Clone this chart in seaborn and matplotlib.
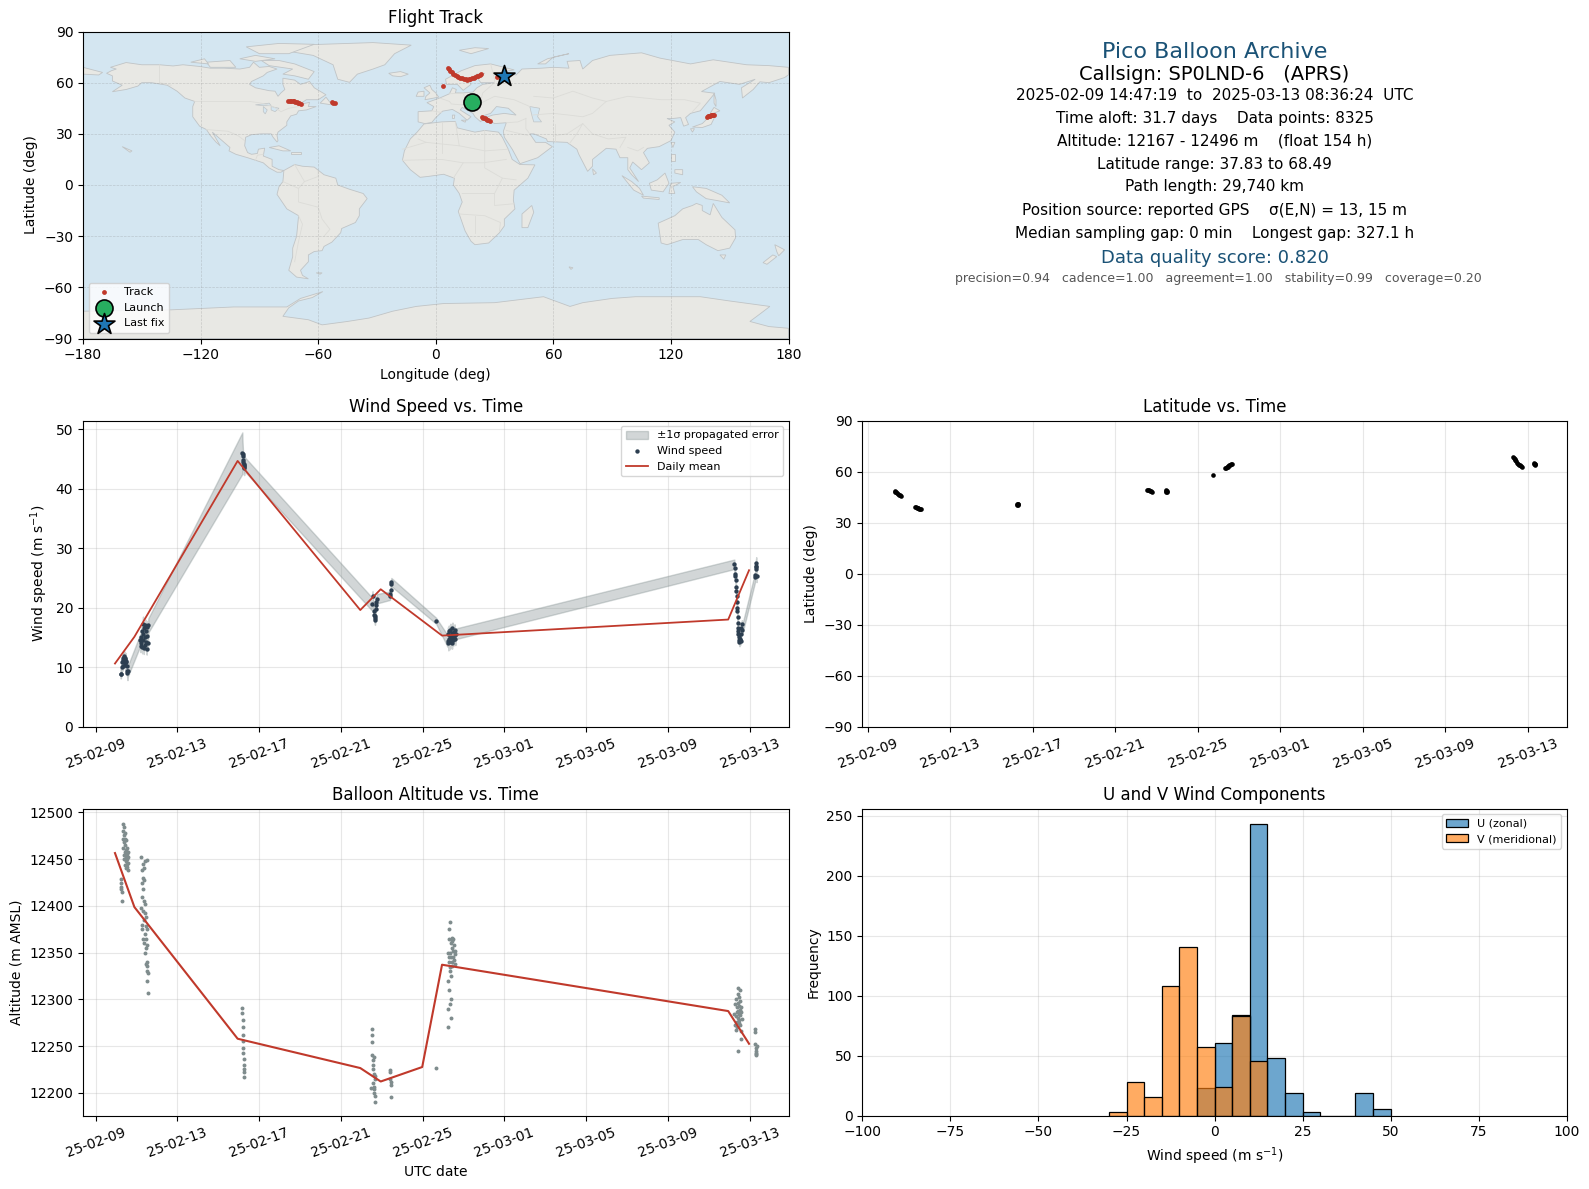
import numpy as np
import pandas as pd
import matplotlib
matplotlib.use('Agg')
import matplotlib.pyplot as plt
import matplotlib.dates as mdates
import seaborn as sns

W, H = 1589, 1189
START = pd.Timestamp('2025-02-09')

# ---- map outlines (lon, lat), read by eye
north_america = [(-168,65.5),(-165.5,67),(-163,68),(-166,69),(-158,71.8),(-150,70.5),(-141,70.5),(-134,69.8),(-129,70.5),(-120.5,69.5),(-115,68.5),(-108,68.5),(-100,68),(-95,69),(-93,72),(-90,69),(-85,69.5),(-81,68),(-86,66),(-88,64),(-94,60.7),(-95,59),(-92,57),(-85,55.3),(-82,55),(-80.5,52),(-79,54),(-77,56),(-78,59),(-78,62.6),(-72,61.5),(-69,59),(-64.4,60.7),(-62,57),(-56,52.9),(-60,50),(-66,50),(-70,47),(-64.4,48.5),(-65,46),(-61,46),(-66,44),(-70,43.5),(-71,41.5),(-74,40.5),(-76,37),(-76,35),(-80.5,31),(-81,29),(-80.5,26),(-81,25.2),(-83,28),(-84,30),(-89,30),(-94,29.5),(-97,28),(-97.5,23),(-96,19),(-94,18),(-91,18.5),(-90.5,21),(-87.3,21.6),(-88,17),(-83.5,15),(-83.5,11),(-80,9),(-77.5,8.5),(-79,7.5),(-81,7.5),(-85,10),(-88,13),(-92,14.5),(-96,16),(-102,18),(-105.5,20),(-105,22),(-109,26),(-112,29),(-114,31),(-112,27),(-110,23),(-112,25),(-115,29),(-117,32.5),(-120.5,34.5),(-124,40),(-124,46),(-123,49),(-128,51),(-132,55),(-137,58.5),(-145,60),(-150,60),(-152,58),(-158,56),(-165,54.7),(-160,58.5),(-165,61),(-165,64)]
south_america = [(-77.5,8.5),(-72,12),(-68,11),(-62,10.5),(-57,6),(-51,4),(-50,0),(-44,-2.5),(-37,-5),(-35,-8),(-39,-14),(-39,-18),(-41,-22),(-48,-25.5),(-48.5,-28),(-53,-33.5),(-57,-36),(-58,-38.5),(-62,-39),(-65,-41),(-65,-45),(-69,-50),(-68,-53),(-65,-55),(-71,-54),(-75,-50),(-73,-42),(-73,-37),(-71,-30),(-70,-18),(-76,-14),(-81,-5.5),(-80,-1),(-78,2)]
africa = [(-6,35.8),(3,37),(10,37.3),(11,33.5),(20,31),(25,32),(32,31),(34,28),(37,21),(39,15),(43,12),(50.6,11.8),(47,4),(40,-3),(39.6,-8.7),(40.4,-14),(35,-20),(35,-24),(32.5,-28),(27,-34),(20,-35),(18,-33),(15,-27),(11.5,-15.5),(13.5,-10),(12,-5),(9,0),(9.5,4),(4,6.3),(-4,5),(-8,4.5),(-13,9),(-17,14.5),(-16,20),(-13,27),(-9.5,31)]
eurasia = [(-9,37),(-9,43),(-2,43.5),(-1,46),(-4.5,48.3),(2,51),(7,53.5),(8.5,57),(10.5,56),(10,54),(14,54),(19,54.5),(21,57),(24,59),(30,60),(23,60),(21,63),(25,65.5),(21,65),(17,61),(18,59),(14,55.5),(11,59),(5.5,59),(5,62),(13,67),(20,70),(28,71),(40,67.5),(35,66.5),(41,64.5),(44,68),(54,68.5),(60,69),(68,68.5),(67,72.5),(73.6,73),(75,68),(80,73),(88.9,76),(105,77.5),(114.4,74.4),(130,71),(141.6,73.4),(158.6,70.5),(170,70),(180,69),(180,64.6),(178,63),(170,60),(165.4,60.5),(162,56),(156.5,51),(156,57),(163,62),(155,59),(145,60.7),(135.6,54.8),(142.4,53.8),(135,43.5),(130,42),(127.5,39.5),(129,35.5),(126.5,34.5),(125,39.5),(121,39),(118,39),(122,37),(119,35),(122,31),(120,26),(114,22.5),(108,21.5),(106,19),(109,13),(105,9),(100.5,13.5),(99,10),(103.5,2),(100,6),(98,9),(98,16),(94,16),(92,21),(87,21.5),(80,15),(80,11),(77.5,8),(73,18),(72,21),(67,25),(57,25.5),(56.5,27),(50,30),(48,30),(51,25),(56,25),(59.5,22.5),(52,16),(43,12.5),(39,21),(35,28),(34.5,31.5),(36,36.5),(30,36),(26.5,38.5),(26.5,40),(29,41),(35,42),(41,41),(37,45),(31,46),(28,42),(24,40.5),(23,37),(20,40),(19,42),(13.5,45.5),(12.5,44),(18,40),(16,38),(12,42),(8.5,44.3),(3.5,43.3),(0,39.5),(-2,36.7),(-5.5,36)]
australia = [(113.5,-22.4),(122,-18),(126,-14),(131,-12),(133,-10.8),(136,-12),(136,-15),(140,-17.5),(141.6,-10.8),(146,-19),(152.7,-26.3),(153,-31),(150,-37),(144,-38.5),(138,-35),(134,-32),(126,-32),(118,-35),(115,-34)]
antarctica = [(-180,-74),(-135,-73.2),(-103,-71.5),(-76,-71.5),(-69,-66.5),(-57.6,-62.5),(-63,-66),(-70,-68),(-75,-72),(-78,-77),(-65,-79),(-58,-82),(-45,-80),(-34,-78),(-22,-74),(-10,-71.2),(4,-69.5),(30,-69),(55,-65.5),(68.5,-71.2),(75,-69),(90,-66.5),(102,-65.5),(135,-65.5),(150,-68),(170.5,-71.2),(165,-76),(160.3,-80),(170,-83),(180,-84),(180,-90),(-180,-90)]
greenland = [(-74.6,78.3),(-71,82),(-32,83.5),(-12.5,82),(-21,77),(-26,70.5),(-32,68),(-40,65),(-44,60.2),(-50,62),(-52.4,70.5),(-62.6,76)]
islands = [
    [(-80,73),(-72,71),(-62,66.5),(-65,62),(-72,64),(-78,65),(-73,68),(-85,70),(-89,73)],
    [(-117,72),(-105,73),(-102,69),(-115,69)],
    [(-96.7,81),(-80,83),(-62,82.5),(-75,77),(-90,77)],
    [(-125,72),(-118,74),(-116,71)],
    [(-100,74),(-92,76),(-82,74),(-92,72.5)],
    [(-59,48),(-56,51.5),(-53,47)],
    [(-85,22),(-80,23),(-74,20),(-78,20)],
    [(-74,19.5),(-69,19.5),(-69,18),(-74,18)],
    [(-160,22.5),(-158,21.5),(-155,20),(-156,19.2)],
    [(-5.5,50),(1.5,51.5),(0,54),(-2,56),(-3,58.5),(-6,57),(-3,54),(-5,52)],
    [(-10,52),(-6,52),(-6,55),(-9,54.5)],
    [(-24,65.5),(-18,66.5),(-14,65),(-18,63.5),(-22,64)],
    [(12,79),(20,80.5),(27,80),(18,77)],
    [(52,71),(57,74),(68,77),(60,75),(56,71)],
    [(142,54),(143,50),(143,46),(142,48)],
    [(131,34),(136,36),(140,40.5),(141.5,41),(142,39),(140.5,35.5),(136,33.7)],
    [(130,33),(132,33),(131,31)],
    [(140,42),(142,45.5),(145,43.5),(141.5,42)],
    [(120,25),(122,25),(121,22)],
    [(80,9.5),(82,7),(80.5,6)],
    [(120,18),(122,18),(122,14),(120,14)],
    [(122,9),(126,9),(126,6),(122,7)],
    [(109,1),(113,3),(117,7),(119,1),(116,-4),(110,-3)],
    [(95,5.5),(100,2),(104,-2),(106,-6),(101,-3)],
    [(105,-6.5),(114,-7.5),(114,-8.5),(106,-7.7)],
    [(119,-5),(120,1),(125,1.5),(121,-1),(122,-5)],
    [(131,-1),(138,-2),(146,-6),(150,-10.5),(143,-9),(138,-8),(133,-4)],
    [(145,-41),(148,-41),(147,-43.5)],
    [(173,-35),(178,-38),(175,-41.5),(174,-39)],
    [(172,-41),(174,-42),(169,-46.5),(167,-45.5)],
    [(49,-12),(50,-16),(47,-25),(44,-25),(44,-17)],
    [(13,38),(15.5,38),(15,36.8)],
    [(8.5,41),(9.7,41),(9.5,39),(8.5,39)],
    [(-61,-51.5),(-58,-51.5),(-59,-52.3)],
    [(68,-48),(70,-48.5),(69,-49.5)],
    [(-180,65),(-172,64.5),(-170,66),(-180,69)],
]
inland_water = [
    [(48,46),(53,45),(52,40),(54,37),(50,37),(49,41)],
    [(-92,47),(-85,48),(-84,46.5),(-88,46.5)],
    [(-88,46),(-86,44),(-87,41.7),(-88,43)],
    [(-84,46),(-80,45),(-82,43),(-84,44)],
]
borders = [
    [(-123,49),(-95,49),(-89,48),(-83,46),(-79,43),(-75,45),(-70,46),(-67,47)],
    [(-141,70.5),(-141,60),(-135,58.5)],
    [(-117,32.5),(-106,31.5),(-101,29),(-97.5,26)],
    [(-92,14.5),(-91,17.5),(-88,18)],
    [(-78,2),(-70,-2),(-70,-10),(-60,-13),(-58,-20),(-54,-26),(-57,-30)],
    [(-70,-18),(-68,-23),(-70,-33),(-72,-45)],
    [(-72,12),(-67,2),(-70,-2)],
    [(-60,8),(-60,5),(-67,2)],
    [(-2,43.5),(3,42.5)],
    [(2,51),(7,49),(8,47.5),(13,47),(17,48),(23,48),(30,52),(40,50),(48,46)],
    [(7,53.5),(14,54),(15,51),(23,50),(24,54),(30,60)],
    [(28,71),(30,62),(30,60)],
    [(49,41),(60,42),(68,41),(75,40),(80,42),(87,49),(98,52),(115,50),(127,50),(135,48),(131,43)],
    [(50,52),(60,51),(70,55),(80,51),(87,49)],
    [(61,36),(61,25)],
    [(46,39),(46,33),(48,30)],
    [(36,36.5),(42,37),(46,39)],
    [(36,32),(47,29)],
    [(68,24),(72,30),(75,36),(80,30),(88,27),(97,28),(94,22)],
    [(75,36),(67,30),(61,29)],
    [(98,22),(103,20),(106,22)],
    [(-9,27),(-5,25),(12,23),(25,20),(37,21)],
    [(-17,21),(-5,25)],
    [(3,19),(3,37)],
    [(12,23),(10,37)],
    [(25,32),(25,10),(34,4),(41,3)],
    [(14,13),(24,13),(36,15)],
    [(-17,14.5),(3,15),(14,13),(9,4)],
    [(13.5,-5),(30,-5),(30,-12),(40,-11)],
    [(34,4),(30,-5)],
    [(12,-17),(25,-18),(33,-22),(32.5,-27)],
    [(20,-28),(20,-18)],
]

# ---- flight track
track_lon = [-75.3,-74.5,-73.8,-73,-72.4,-71.6,-71,-70.2,-69.6,-68.9,-53,-52.3,-51.6,3.9,
             6.2,6.8,7.5,8.2,9,9.8,10.6,11.5,12.5,13.4,14.3,15.2,15.9,16.8,17.7,18.6,19.4,20.2,21,21.8,22.5,22.9,31.5,
             23.7,24.3,24.9,25.5,26.1,26.8,27.6,
             138.4,138.9,139.4,139.9,140.4,141,141.6,142.2]
track_lat = [49.5,49.4,49.3,49.2,49,48.8,48.5,48.1,47.8,47.5,48.4,48.3,48.2,57.9,
             68.5,67.8,67,66.2,65.3,64.6,64,63.4,63,62.5,62.2,61.9,61.6,61.9,62.2,62.6,63,63.3,63.7,64,64.4,65.1,63.6,
             39.7,39.4,39,38.8,38.4,38.1,37.8,
             40.1,40.3,40.5,40.7,40.8,41,41.1,41.1]
launch_lon, launch_lat = [18.7], [48.5]
last_lon, last_lat = [34.9], [64.0]

# ---- wind speed points, time in days since 02-09
wind_days = [1.22,1.24,1.28,1.30,1.32,1.34,1.36,1.38,1.40,1.42,1.44,1.46,1.48,1.50,1.52,1.54,1.56,1.58,
             2.18,2.20,2.22,2.24,2.26,2.28,2.30,2.32,2.34,2.36,2.38,2.40,2.42,2.44,2.46,2.48,2.50,2.52,2.54,2.56,2.58,
             7.18,7.19,7.20,7.22,7.23,7.24,7.25,7.26,7.27,7.28,
             13.50,13.55,13.60,13.62,13.65,13.67,13.69,13.70,13.72,13.74,13.76,
             14.40,14.42,14.44,14.46,14.47,
             16.66,
             17.22,17.24,17.26,17.28,17.30,17.32,17.34,17.36,17.38,17.40,17.42,17.44,17.46,17.48,17.50,17.52,17.54,17.56,17.58,17.60,17.62,
             31.25,31.26,31.28,31.30,31.31,31.33,31.34,31.36,31.37,31.38,31.40,31.41,31.42,31.43,31.44,31.45,31.46,31.48,31.50,31.52,31.54,31.56,31.58,31.60,31.62,31.63,
             32.27,32.28,32.29,32.30,32.32,32.33,32.34]
wind_speed = [8.9,8.9,10.0,10.8,10.2,11.2,11.6,10.9,11.8,11.3,10.4,11.5,10.9,11.0,10.2,9.4,9.0,9.3,
              14.5,13.5,15.0,14.0,16.0,13.3,15.5,17.3,14.5,13.2,16.5,15.0,13.8,17.0,14.2,16.0,13.1,15.2,16.8,14.0,17.0,
              46.0,45.5,45.8,44.8,44.5,44.0,43.6,43.8,43.5,44.2,
              20.7,21.9,19.5,18.8,18.2,18.0,18.6,19.8,20.5,21.0,21.5,
              22.0,22.3,23.0,24.0,24.3,
              17.8,
              14.4,15.5,14.0,16.0,14.8,15.3,14.2,16.3,15.0,14.5,15.8,14.1,16.5,15.2,14.6,15.9,14.9,16.2,15.4,14.7,15.6,
              27.3,26.6,25.7,25.3,24.6,23.5,22.8,22.0,21.0,20.0,19.4,18.5,17.5,16.5,16.0,15.5,15.0,14.6,14.3,14.5,14.7,14.4,15.5,16.5,17.2,16.2,
              25.2,25.5,26.5,26.9,27.5,27.0,25.3]
wind_sigma = [0.8,0.8,0.9,0.9,0.8,0.9,0.9,0.8,0.9,0.9,0.8,0.9,0.9,0.8,0.9,1.0,1.2,0.9,
              1.0,1.0,1.0,1.0,0.9,1.0,1.0,1.2,1.0,1.0,1.0,1.0,1.0,1.0,1.0,1.0,1.0,1.0,1.0,1.0,1.2,
              3.5,2.5,1.5,1.2,1.2,1.2,1.2,1.0,1.2,1.2,
              1.1,0.9,0.9,0.9,0.8,0.9,0.9,0.9,0.9,0.9,0.8,
              0.7,0.7,0.8,0.7,0.7,
              0.5,
              1.0,1.2,1.2,1.0,1.0,1.2,1.2,1.0,1.0,1.2,1.0,1.0,1.0,1.0,1.0,1.0,1.0,1.0,1.0,1.0,0.9,
              0.8,0.7,0.6,0.7,0.6,0.6,0.7,0.6,0.7,0.6,0.7,0.6,0.6,0.7,0.6,0.7,0.6,0.6,0.8,0.6,0.7,0.6,0.7,0.6,0.7,0.8,
              0.8,0.8,0.9,0.9,1.0,1.0,1.0]
wind_mean_days = [0.95,1.9,6.95,12.95,13.95,16.95,30.95,31.97]
wind_mean = [10.6,15.1,44.7,19.6,23.1,15.3,18.0,26.3]

# ---- altitude points
alt_days = [1.25,1.25,1.26,1.26,1.27,1.27,
            1.33,1.34,1.35,1.36,1.37,1.38,1.39,1.40,1.41,1.42,1.43,1.44,1.45,1.46,1.47,1.48,1.49,1.50,1.51,1.52,1.53,1.54,1.55,1.56,1.57,1.58,1.59,1.60,
            2.22,2.24,2.25,2.26,2.27,2.28,2.29,2.30,2.31,2.32,2.33,2.34,2.35,2.36,2.37,2.38,2.39,2.40,2.41,2.42,2.43,2.44,2.45,2.46,2.47,2.48,2.49,2.50,2.50,2.51,2.52,2.53,2.54,2.54,2.55,2.55,
            7.18,7.18,7.19,7.19,7.20,7.21,7.22,7.23,7.24,7.24,7.25,7.26,7.27,
            13.46,13.50,13.52,13.53,13.54,13.55,13.56,13.57,13.58,13.60,13.61,13.62,13.63,13.64,13.65,13.66,13.67,13.68,
            14.40,14.41,14.42,14.43,14.44,14.46,
            16.66,
            17.22,17.24,17.25,17.26,17.27,17.28,17.29,17.30,17.31,17.32,17.33,17.34,17.35,17.36,17.37,17.38,17.39,17.40,17.41,17.42,17.43,17.44,17.45,17.46,17.47,17.48,17.50,17.52,17.54,17.56,17.58,17.60,
            31.25,31.27,31.29,31.31,31.33,31.35,31.37,31.38,31.39,31.40,31.41,31.42,31.43,31.44,31.45,31.46,31.47,31.48,31.49,31.50,31.51,31.52,31.53,31.54,31.55,31.56,31.57,31.58,31.60,31.62,31.42,
            32.26,32.27,32.28,32.29,32.30,32.31,32.32,32.33,32.34]
alt_m = [12429,12425,12420,12418,12415,12405,
         12472,12488,12480,12462,12476,12454,12484,12468,12450,12472,12458,12444,12478,12465,12448,12460,12440,12470,12452,12445,12462,12456,12442,12450,12438,12458,12446,12452,
         12398,12452,12380,12438,12425,12410,12375,12445,12430,12395,12418,12365,12440,12405,12385,12360,12428,12402,12350,12392,12370,12448,12378,12355,12338,12388,12364,12449,12340,12358,12375,12320,12336,12330,12328,12307,
         12291,12285,12278,12270,12262,12255,12248,12243,12236,12230,12225,12222,12217,
         12205,12268,12262,12254,12240,12235,12230,12225,12210,12238,12220,12206,12204,12200,12196,12190,12218,12215,
         12224,12222,12215,12208,12195,12212,
         12226.7,
         12350,12320,12290,12270,12340,12375,12345,12310,12365,12335,12295,12383,12350,12330,12280,12360,12345,12325,12300,12366,12340,12355,12336,12362,12345,12352,12365,12342,12358,12348,12338,12352,
         12284,12272,12295,12267,12282,12300,12276,12292,12286,12270,12306,12296,12280,12312,12288,12275,12302,12284,12293,12278,12310,12289,12272,12298,12283,12266,12257,12286,12292,12279,12245,
         12268,12265,12252,12248,12245,12243,12241,12240,12250]
alt_mean_days = [0.95,1.9,6.95,12.95,13.95,15.98,16.95,30.95,31.97]
alt_mean = [12456.5,12398.7,12257.8,12226.4,12212,12227.5,12337,12287.4,12252.4]

# ---- latitude points
lat_days = [1.29,1.33,1.37,1.41,1.45,1.49,1.53,1.58,
            2.29,2.33,2.37,2.41,2.45,2.50,2.54,2.58,
            7.22,7.24,7.26,7.28,7.30,
            13.54,13.58,13.62,13.68,13.72,13.76,
            14.44,14.46,14.48,14.50,14.52,
            16.73,
            17.33,17.37,17.41,17.45,17.49,17.53,17.57,17.62,17.66,
            31.29,31.33,31.37,31.41,31.45,31.49,31.53,31.57,31.62,31.66,31.71,
            32.30,32.32,32.34,32.36,32.38]
lat_deg = [48.6,48.2,47.8,47.3,46.9,46.4,46.0,45.5,
           39.2,39.0,38.8,38.6,38.3,38.1,37.9,37.83,
           40.4,40.8,40.6,40.3,40.7,
           49.4,49.2,48.9,48.6,48.3,48.0,
           48.1,49.0,48.6,48.2,48.8,
           58.2,
           61.8,62.2,62.5,62.9,63.2,63.6,64.0,64.4,64.7,
           68.49,67.8,67.2,66.5,65.9,65.2,64.6,64.1,63.6,63.2,62.7,
           64.2,64.8,64.5,64.1,64.6]

# ---- histogram counts
u_edges = [-5,0,5,10,15,20,25,30,35,40,45,50]
u_counts = [23,61,84,243,48,19,3,0,0,19,6]
v_edges = [-30,-25,-20,-15,-10,-5,0,5,10,15]
v_counts = [3,28,16,108,141,57,24,83,46]

# ---- text block
info_lines = ['Pico Balloon Archive',
              'Callsign: SP0LND-6   (APRS)',
              '2025-02-09 14:47:19  to  2025-03-13 08:36:24  UTC',
              'Time aloft: 31.7 days    Data points: 8325',
              'Altitude: 12167 - 12496 m    (float 154 h)',
              'Latitude range: 37.83 to 68.49',
              'Path length: 29,740 km',
              'Position source: reported GPS    σ(E,N) = 13, 15 m',
              'Median sampling gap: 0 min    Longest gap: 327.1 h',
              'Data quality score: 0.820',
              'precision=0.94   cadence=1.00   agreement=1.00   stability=0.99   coverage=0.20']
info_x = [1214.5, 1214.5, 1214.5, 1214.5, 1214.5, 1214.5, 1214.5, 1214.5, 1214.5, 1214.5, 1218]
info_y = [52, 74, 95, 118, 141, 164, 187, 210, 233.5, 258, 278.5]
info_size = [16, 14, 11, 11, 11, 11, 11, 11, 11, 13, 9]
info_color = ['#1a5276', 'black', 'black', 'black', 'black', 'black', 'black', 'black', 'black', '#1a5276', '#555555']

RED = '#c0392b'
NAVY = '#2c3e50'
GREY = '#7f8c8d'


def to_dates(days):
    return [START + pd.Timedelta(days=float(d)) for d in days]


def px_axes(fig, left, top, right, bottom):
    return fig.add_axes([left / W, 1 - bottom / H, (right - left) / W, (bottom - top) / H])


def time_axis(ax, left_day):
    ax.set_xlim(to_dates([left_day])[0], to_dates([33.9])[0])
    ax.set_xticks(to_dates([0, 4, 8, 12, 16, 20, 24, 28, 32]))
    ax.xaxis.set_major_formatter(mdates.DateFormatter('%y-%m-%d'))
    ax.tick_params(axis='x', labelrotation=20)
    ax.grid(True, alpha=0.3)
    ax.set_axisbelow(True)


fig = plt.figure(figsize=(W / 100, H / 100), dpi=100)

# flight track
ax = px_axes(fig, 83, 31.5, 788.5, 338.5)
ax.set_facecolor('#d4e6f1')
for poly in [north_america, south_america, africa, eurasia, australia, antarctica, greenland] + islands:
    xs, ys = zip(*poly)
    ax.fill(xs, ys, facecolor='#e8e8e4', edgecolor='#c0c4c6', linewidth=0.6, zorder=1)
for poly in inland_water:
    xs, ys = zip(*poly)
    ax.fill(xs, ys, facecolor='#d4e6f1', edgecolor='#c0c4c6', linewidth=0.5, zorder=1.1)
for line in borders:
    xs, ys = zip(*line)
    ax.plot(xs, ys, color='#dcdcd8', linewidth=0.6, zorder=1.2)
sns.scatterplot(x=track_lon, y=track_lat, color=RED, s=12, linewidth=0, label='Track', ax=ax, zorder=4)
sns.scatterplot(x=launch_lon, y=launch_lat, color='#27ae60', s=150, marker='o', edgecolor='black',
                linewidth=1.2, label='Launch', ax=ax, zorder=5)
sns.scatterplot(x=last_lon, y=last_lat, color='#1f77b4', s=250, marker='*', edgecolor='black',
                linewidth=1.2, label='Last fix', ax=ax, zorder=6)
ax.set_xlim(-180, 180)
ax.set_ylim(-90, 90)
ax.set_xticks(np.arange(-180, 181, 60))
ax.set_yticks(np.arange(-90, 91, 30))
ax.grid(True, alpha=0.3, linewidth=0.5, linestyle='--', color='#808080', zorder=2)
ax.set_xlabel('Longitude (deg)')
ax.set_ylabel('Latitude (deg)')
ax.set_title('Flight Track', fontsize=12)
ax.legend(loc='lower left', fontsize=8)

# text panel
for line, x, y, size, col in zip(info_lines, info_x, info_y, info_size, info_color):
    fig.text(x / W, 1 - y / H, line, ha='center', va='center', fontsize=size, color=col)

# wind speed
ax = px_axes(fig, 83, 420.5, 788.5, 726.5)
wt = to_dates(wind_days)
low = [v - s for v, s in zip(wind_speed, wind_sigma)]
high = [v + s for v, s in zip(wind_speed, wind_sigma)]
ax.fill_between(wt, low, high, color=GREY, alpha=0.35, label='±1σ propagated error')
sns.scatterplot(x=wt, y=wind_speed, color=NAVY, s=10, linewidth=0, label='Wind speed', ax=ax, zorder=3)
sns.lineplot(x=to_dates(wind_mean_days), y=wind_mean, color=RED, linewidth=1.3, estimator=None,
             label='Daily mean', ax=ax, zorder=4)
ax.set_ylim(0, 51.5)
time_axis(ax, -0.615)
ax.set_ylabel('Wind speed (m s$^{-1}$)')
ax.set_title('Wind Speed vs. Time', fontsize=12)
ax.legend(loc='upper right', fontsize=8)

# latitude
ax = px_axes(fig, 862.4, 420.5, 1566.7, 726.5)
sns.scatterplot(x=to_dates(lat_days), y=lat_deg, color='black', s=11, linewidth=0, ax=ax, zorder=3)
ax.set_ylim(-90, 90)
ax.set_yticks(np.arange(-90, 91, 30))
time_axis(ax, -0.27)
ax.set_ylabel('Latitude (deg)')
ax.set_title('Latitude vs. Time', fontsize=12)

# altitude
ax = px_axes(fig, 83, 808.7, 788.5, 1115.7)
sns.scatterplot(x=to_dates(alt_days), y=alt_m, color=GREY, s=8, linewidth=0, ax=ax, zorder=3)
sns.lineplot(x=to_dates(alt_mean_days), y=alt_mean, color=RED, linewidth=1.5, estimator=None, ax=ax, zorder=4)
ax.set_ylim(12175.4, 12504)
time_axis(ax, -0.615)
ax.set_xlabel('UTC date')
ax.set_ylabel('Altitude (m AMSL)')
ax.set_title('Balloon Altitude vs. Time', fontsize=12)

# wind components
ax = px_axes(fig, 862.4, 808.7, 1566.7, 1115.7)
sns.histplot(x=u_edges[:-1], weights=u_counts, bins=u_edges, color='tab:blue', alpha=0.65,
             edgecolor='black', linewidth=0.9, label='U (zonal)', ax=ax)
sns.histplot(x=v_edges[:-1], weights=v_counts, bins=v_edges, color='tab:orange', alpha=0.65,
             edgecolor='black', linewidth=0.9, label='V (meridional)', ax=ax)
ax.set_xlim(-100, 100)
ax.set_ylim(0, 256)
ax.set_xticks(np.arange(-100, 101, 25))
ax.grid(True, alpha=0.3)
ax.set_axisbelow(True)
ax.set_xlabel('Wind speed (m s$^{-1}$)')
ax.set_ylabel('Frequency')
ax.set_title('U and V Wind Components', fontsize=12)
ax.legend(loc='upper right', fontsize=8)

fig.savefig('out.png', dpi=100)
